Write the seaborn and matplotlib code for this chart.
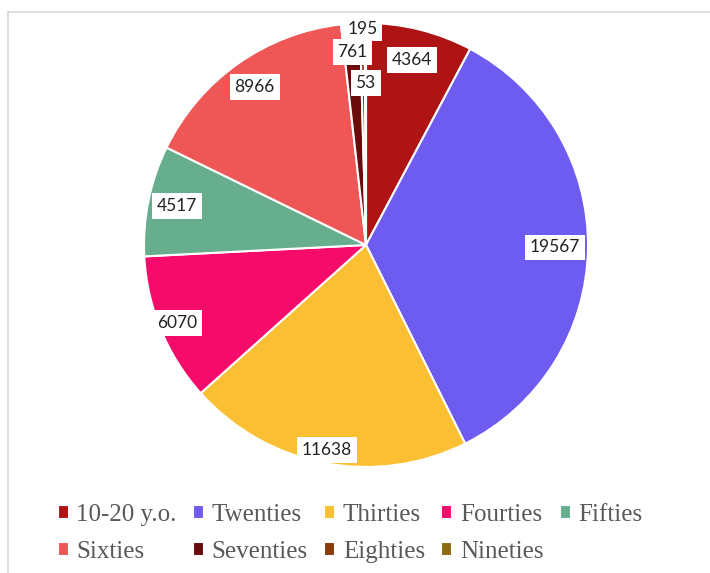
import numpy as np
import seaborn as sns
import matplotlib.pyplot as plt
from matplotlib.lines import Line2D

groups = ["10-20 y.o.", "Twenties", "Thirties", "Fourties", "Fifties",
          "Sixties", "Seventies", "Eighties", "Nineties"]
counts = [4364, 19567, 11638, 6070, 4517, 8966, 761, 195, 53]
colors = ["#AE1414", "#6E5BF0", "#FBBF33", "#F50C6B", "#67AE8E",
          "#EF5757", "#6B0A0A", "#8B3A0C", "#8B6A10"]
# radial position of each data label (fraction of radius), Excel "best fit" look
label_r = [0.86, 0.85, 0.94, 0.92, 0.87, 0.87, 0.87, 0.975, 0.73]

sns.set_theme(style="white")
palette = sns.color_palette(colors)

fig = plt.figure(figsize=(7.1, 5.73), dpi=100)
ax = fig.add_axes([0.2028, 0.185, 0.6254, 0.7749])

wedges, _ = ax.pie(counts, colors=palette, startangle=90, counterclock=False,
                   wedgeprops=dict(edgecolor="white", linewidth=1.5))
ax.set_xlim(-1, 1)
ax.set_ylim(-1, 1)
ax.set_aspect("equal")

# data labels in white boxes
total = sum(counts)
cum = np.cumsum([0] + counts)
for i, v in enumerate(counts):
    mid = 90 - 360 * (cum[i] + v / 2) / total
    a = np.deg2rad(mid)
    ax.text(label_r[i] * np.cos(a), label_r[i] * np.sin(a), str(v),
            ha="center", va="center", fontsize=12.5, family="Lato", color="#222222",
            bbox=dict(facecolor="white", edgecolor="none", pad=3.5))

# legend, row-major order like Excel
order = [0, 5, 1, 6, 2, 7, 3, 8, 4]
leg = fig.legend([wedges[i] for i in order], [groups[i] for i in order],
                 ncol=5, loc="center", bbox_to_anchor=(0.493, 0.069),
                 frameon=False, handlelength=0.45, handleheight=0.45,
                 handletextpad=0.3, columnspacing=0.65, labelspacing=0.6,
                 prop=dict(family="Liberation Serif", size=18))
for t in leg.get_texts():
    t.set_color("#595959")

# chart area border (top and left edges visible)
fig.add_artist(Line2D([8 / 710, 1], [1 - 12 / 573, 1 - 12 / 573],
                      color="#d9d9d9", linewidth=1.2))
fig.add_artist(Line2D([8 / 710, 8 / 710], [0, 1 - 12 / 573],
                      color="#d9d9d9", linewidth=1.2))

fig.savefig("out.png", dpi=100, facecolor="white")
